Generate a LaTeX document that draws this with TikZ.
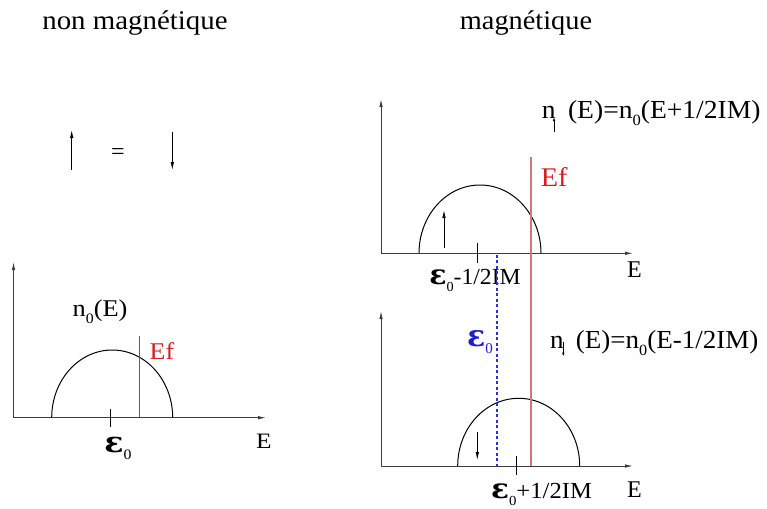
\documentclass[tikz,border=0pt]{standalone}
\usepackage{fontspec}
\usepackage{graphicx}
\setmainfont{Liberation Serif}
\newfontfamily\epsfont{DejaVu Serif}
\usetikzlibrary{arrows.meta}
\definecolor{axcol}{RGB}{60,60,60}
\definecolor{efred}{RGB}{215,30,30}
\definecolor{efrose}{RGB}{205,120,120}
\definecolor{epsblue}{RGB}{30,30,210}
\definecolor{dashblue}{RGB}{45,45,225}
\newcommand{\subz}[1]{\raisebox{-0.3em}{\scalebox{0.6}{#1}}}
\newcommand{\epsz}{{\epsfont\bfseries\scalebox{1.2}{ε}}\subz{0}}
\newcommand{\sx}[2]{\scalebox{#1}[1]{#2}}
\begin{document}
\begin{tikzpicture}[x=1pt,y=-1pt,
  ax/.style={draw=axcol, line width=0.9pt, -{Latex[length=8pt,width=3.5pt]}},
  band/.style={draw=black, line width=1pt},
  lbl/.style={inner sep=0pt, anchor=west},
  tickmark/.style={draw=black, line width=0.8pt},
  spin/.style={draw=black, line width=0.8pt, -{Latex[length=8pt,width=3.5pt]}},
  subspin/.style={draw=black, line width=0.8pt, -{Latex[length=4pt,width=2.5pt]}},
  fermiline/.style={draw={rgb,255:red,220;green,40;blue,40}, line width=1.4pt},
  fs/.style={font=\fontsize{#1}{#1}\selectfont}]
\useasboundingbox (0,0) rectangle (767,508);

% titles
\node[inner sep=0pt, fs=27] (t1) at (135,23) {\sx{1.07}{non magnétique}};
\node[inner sep=0pt, fs=27] (t2) at (526,23) {\sx{1.05}{magnétique}};

% top-left spin arrows
\coordinate (ua0) at (71.7,170); \coordinate (ua1) at (71.7,130);
\coordinate (da0) at (172.3,132); \coordinate (da1) at (172.3,170);
\draw[spin] (ua0) -- (ua1);
\draw[spin] (da0) -- (da1);
\node[inner sep=0pt, fs=24] (eq) at (118,154) {=};

% ---------- left graph ----------
\coordinate (O1) at (13.5,417.7);
\coordinate (Y1) at (13.5,262);
\coordinate (X1) at (266,417.7);
\draw[ax] (O1) -- (Y1);
\draw[ax] (O1) -- (X1);
\coordinate (B1) at (51.7,417.7);
\draw[band] (B1) arc[start angle=180,end angle=0,x radius=60.5pt,y radius=67.7pt];
\coordinate (k1a) at (110.3,409); \coordinate (k1b) at (110.3,427);
\draw[tickmark] (k1a) -- (k1b);
\coordinate (r1a) at (139.5,336); \coordinate (r1b) at (139.5,417.2);
\draw[fermiline] (r1a) -- (r1b);
\node[lbl, fs=24] (n0) at (72.5,312) {\sx{1.1}{n\subz{0}(E)}};
\node[lbl, fs=24, text=efred] (ef1) at (149.5,351) {\sx{1.08}{Ef}};
\node[inner sep=0pt, fs=24] (eps1) at (118,448) {\sx{1.1}{\epsz}};
\node[lbl, fs=22] (E1) at (256,441) {\sx{1.15}{E}};

% ---------- top-right graph ----------
\coordinate (O2) at (381,253.3);
\coordinate (Y2) at (381,99);
\coordinate (X2) at (633,253.3);
\draw[ax] (O2) -- (Y2);
\draw[ax] (O2) -- (X2);
\coordinate (B2) at (419,253.3);
\draw[band] (B2) arc[start angle=180,end angle=0,x radius=61pt,y radius=68.3pt];
\coordinate (k2a) at (477.3,243); \coordinate (k2b) at (477.3,263);
\draw[tickmark] (k2a) -- (k2b);
\coordinate (s2a) at (444,248); \coordinate (s2b) at (444,210);
\draw[spin] (s2a) -- (s2b);
\node[lbl, fs=26] (nup) at (541.7,113) {\sx{1.06}{n\hspace{0.45em}(E)=n\subz{0}(E+1/2IM)}};
\coordinate (su0) at (554,132); \coordinate (su1) at (554,117);
\draw[subspin] (su0) -- (su1);
\node[lbl, fs=27, text=efred] (ef2) at (540.7,177) {\sx{1.05}{Ef}};
\node[lbl, fs=24] (E2) at (627,270) {E};
\node[inner sep=0pt, fs=23] (eps2) at (475,280) {\sx{1.03}{\epsz-1/2IM}};

% ---------- bottom-right graph ----------
\coordinate (O3) at (381,466);
\coordinate (Y3) at (381,311);
\coordinate (X3) at (633,466);
\draw[ax] (O3) -- (Y3);
\draw[ax] (O3) -- (X3);
\coordinate (B3) at (457.7,466);
\draw[band] (B3) arc[start angle=180,end angle=0,x radius=61pt,y radius=67.7pt];
\coordinate (k3a) at (516,456); \coordinate (k3b) at (516,475);
\draw[tickmark] (k3a) -- (k3b);
\coordinate (s3a) at (477.3,431.7); \coordinate (s3b) at (477.3,460);
\draw[spin] (s3a) -- (s3b);
\node[lbl, fs=26] (ndn) at (550,343) {\sx{1.04}{n\hspace{0.45em}(E)=n\subz{0}(E-1/2IM)}};
\coordinate (sd0) at (563.3,341.7); \coordinate (sd1) at (563.3,356.7);
\draw[subspin] (sd0) -- (sd1);
\node[lbl, fs=24] (E3) at (627,490) {E};
\node[inner sep=0pt, fs=23] (eps3) at (541.5,494) {\sx{1.07}{\epsz+1/2IM}};

% shared lines
\coordinate (rfa) at (531,156.7); \coordinate (rfb) at (531,466);
\draw[draw=efrose, line width=1.3pt] (rfa) -- (rfb);
\coordinate (bda) at (497,254.5); \coordinate (bdb) at (497,466);
\draw[draw=dashblue, line width=1.3pt, dash pattern=on 3pt off 2.5pt] (bda) -- (bdb);
\node[inner sep=0pt, fs=25, text=epsblue] (eps0b) at (480,342) {\epsz};
\end{tikzpicture}
\end{document}
